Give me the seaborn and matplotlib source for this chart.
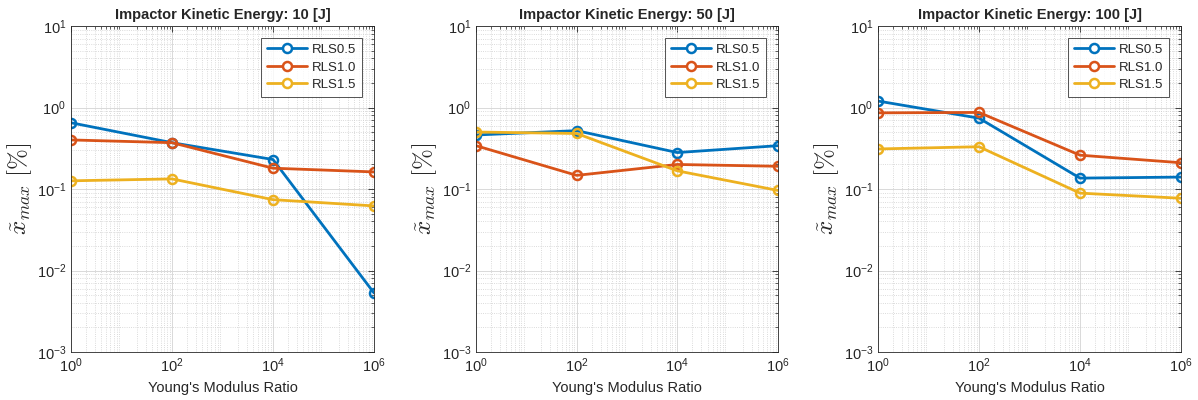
import numpy as np
import pandas as pd
import matplotlib
matplotlib.use("Agg")
import matplotlib.pyplot as plt
import seaborn as sns
from matplotlib.ticker import LogLocator, NullFormatter

sns.set_theme(style="white")
plt.rcParams['font.family'] = ['Liberation Sans', 'DejaVu Sans']
plt.rcParams['mathtext.fontset'] = 'cm'

modulus_ratio = [1, 1e2, 1e4, 1e6]
series_names = ["RLS0.5", "RLS1.0", "RLS1.5"]
energies = [10, 50, 100]

e10_rls05 = [0.65, 0.37, 0.23, 0.0053]
e10_rls10 = [0.40, 0.37, 0.18, 0.162]
e10_rls15 = [0.126, 0.133, 0.074, 0.062]

e50_rls05 = [0.46, 0.52, 0.28, 0.34]
e50_rls10 = [0.34, 0.147, 0.20, 0.19]
e50_rls15 = [0.50, 0.48, 0.167, 0.096]

e100_rls05 = [1.2, 0.74, 0.136, 0.14]
e100_rls10 = [0.86, 0.87, 0.26, 0.21]
e100_rls15 = [0.31, 0.33, 0.089, 0.077]

data = {
    10: [e10_rls05, e10_rls10, e10_rls15],
    50: [e50_rls05, e50_rls10, e50_rls15],
    100: [e100_rls05, e100_rls10, e100_rls15],
}
colors = ["#0072BD", "#D95319", "#EDB120"]

fig = plt.figure(figsize=(11.98, 4.0), dpi=100)
lefts = [71, 476, 878]
widths = [303, 302, 303]
axes = [fig.add_axes([l / 1198, 48 / 400, w / 1198, 326 / 400]) for l, w in zip(lefts, widths)]

for ax, E in zip(axes, energies):
    rows = []
    for name, vals in zip(series_names, data[E]):
        for x, y in zip(modulus_ratio, vals):
            rows.append({"x": x, "y": y, "series": name})
    df = pd.DataFrame(rows)
    sns.lineplot(data=df, x="x", y="y", hue="series", palette=colors, ax=ax,
                 marker="o", markersize=6.5, markerfacecolor="white",
                 markeredgewidth=1.8, linewidth=2, markeredgecolor=None)
    for line, c in zip(ax.get_lines(), colors):
        line.set_markeredgecolor(c)
        line.set_markerfacecolor("none")
    ax.set_xscale("log")
    ax.set_yscale("log")
    ax.set_xlim(1, 1e6)
    ax.set_ylim(1e-3, 1e1)
    ax.set_xticks([1, 1e2, 1e4, 1e6])
    ax.set_yticks([1e-3, 1e-2, 1e-1, 1, 10])
    ax.xaxis.set_minor_locator(LogLocator(base=10, subs=np.arange(2, 10), numticks=20))
    ax.yaxis.set_minor_locator(LogLocator(base=10, subs=np.arange(2, 10), numticks=20))
    ax.xaxis.set_minor_formatter(NullFormatter())
    ax.yaxis.set_minor_formatter(NullFormatter())
    ax.grid(True, which="major", color="#d9d9d9", linewidth=0.7, linestyle="-")
    ax.grid(True, which="minor", color="#cfcfcf", linewidth=0.6, linestyle=":")
    ax.set_axisbelow(True)
    for s in ax.spines.values():
        s.set_color("#262626")
        s.set_linewidth(0.6)
    ax.tick_params(which="both", direction="in", top=True, right=True, colors="#262626",
                   labelsize=10.5)
    ax.tick_params(which="major", length=4, width=0.6)
    ax.tick_params(which="minor", length=2, width=0.5)
    ax.set_title(f"Impactor Kinetic Energy: {E} [J]", fontsize=10.5, fontweight="bold", pad=5)
    ax.set_xlabel("Young's Modulus Ratio", fontsize=10.5, color="#262626", labelpad=4)
    ax.set_ylabel(r"$\tilde{x}_{max}\ [\%]$", fontsize=18, color="#262626", labelpad=2)
    leg = ax.legend(loc="upper right", fontsize=9.5, frameon=True, fancybox=False,
                    edgecolor="#262626", borderaxespad=0.9, handlelength=3.0,
                    borderpad=0.45, labelspacing=0.4, handletextpad=0.4)
    leg.get_frame().set_linewidth(0.7)
    leg.set_title(None)

fig.savefig("out.png", dpi=100)
